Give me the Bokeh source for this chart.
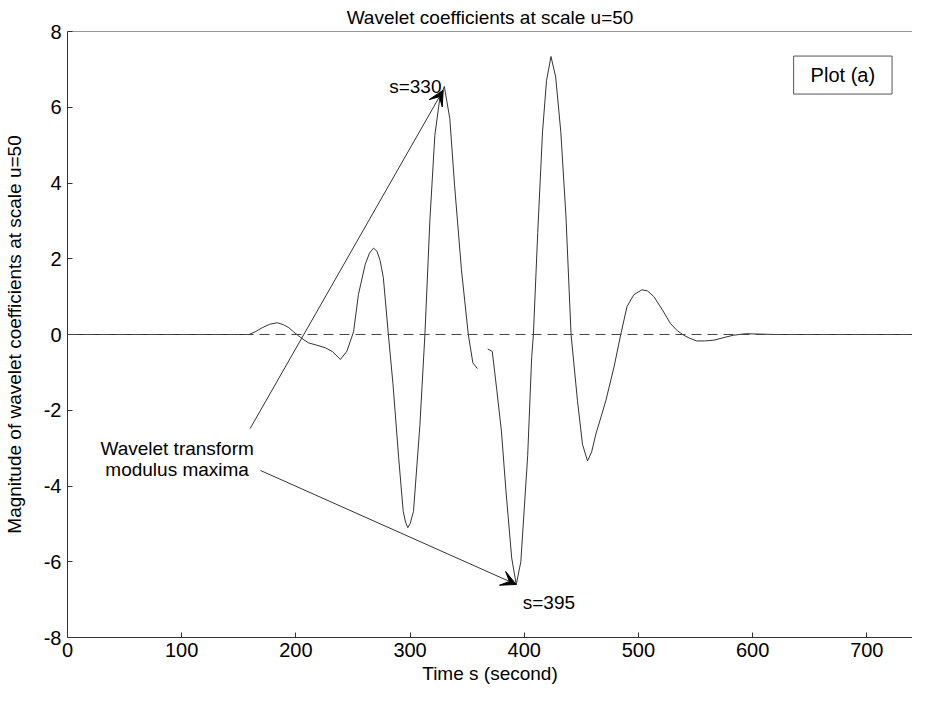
from bokeh.plotting import figure
from bokeh.models import (Title, Label, Arrow, VeeHead, Span,
                          FixedTicker, Range1d, ColumnDataSource)
from bokeh.embed import file_html
from bokeh.resources import INLINE

nan = float("nan")

# ---- data ----
time_s = [0, 100, 150, 159, 165, 170.6, 177, 183.7, 189, 193.8, 198, 202.5, 207, 211,
          218, 225.8, 232, 239, 244.7, 250.5, 254.8, 260.7, 264.5, 268, 271, 273.8, 276.6,
          281, 285, 290, 294, 296, 298, 300, 303, 308.6, 313, 317.4, 321.7, 326, 330,
          334.8, 339, 345, 351, 355, 359, nan, 368, 372, 376, 380, 384, 389, 393, 397,
          400, 403, 406.5, 408, 411.8, 416, 419.5, 423.4, 427.5, 432, 436.5, 441, 446.6,
          451, 455.4, 459, 462.7, 467, 471.4, 478.6, 484.5, 490, 496, 503, 508, 513.5,
          521, 528, 534, 539.7, 545, 551, 558, 566, 575, 583, 594, 620, 700, 750]
coef = [0, 0, 0, 0, 0.08, 0.18, 0.27, 0.31, 0.26, 0.18, 0.07, -0.04, -0.14, -0.22,
        -0.28, -0.35, -0.45, -0.66, -0.44, 0.07, 1.06, 1.85, 2.15, 2.28, 2.2, 1.95, 1.5,
        0.0, -1.3, -3.25, -4.67, -4.95, -5.1, -5.0, -4.67, -2.4, 0.0, 3.04, 5.26, 6.23, 6.55,
        5.7, 3.93, 1.71, 0.0, -0.75, -0.9, nan, -0.38, -0.45, -1.48, -2.55, -4.14, -5.9,
        -6.6, -6.0, -4.6, -3.2, -0.6, 0.0, 2.69, 5.35, 6.7, 7.34, 6.8, 5.35, 3.13, 0.0,
        -1.75, -2.9, -3.34, -3.1, -2.63, -2.2, -1.75, -0.86, 0.0, 0.74, 1.05, 1.18, 1.15,
        1.0, 0.65, 0.29, 0.1, -0.02, -0.1, -0.17, -0.17, -0.15, -0.08, -0.02, 0.02, 0, 0, 0]

x_ticks = [0, 100, 200, 300, 400, 500, 600, 700]
y_ticks = [-8, -6, -4, -2, 0, 2, 4, 6, 8]
y_min, y_max = -8, 8

# annotations (data coordinates)
max1 = (329, 6.45)          # s=330
max2 = (393, -6.6)          # s=395
note_xy = (96, -3.02)
arrow1_start = (160, -2.48)
arrow2_start = (169, -3.59)

FONT = "Liberation Sans"
FS = "19px"
TICK_FS = "20px"

p = figure(width=912, height=686, output_backend="svg", toolbar_location=None,
           title=None, x_range=Range1d(0, 740), y_range=Range1d(y_min, y_max),
           min_border_left=63, min_border_right=0, min_border_top=28,
           min_border_bottom=48)
p.outline_line_color = None
p.xgrid.visible = False
p.ygrid.visible = False
p.background_fill_color = "white"
p.border_fill_color = "white"

for ax in (p.xaxis[0], p.yaxis[0]):
    ax.major_tick_in = 5
    ax.major_tick_out = 0
    ax.minor_tick_in = 0
    ax.minor_tick_out = 0
    ax.axis_line_color = "#333333"
    ax.major_tick_line_color = "#333333"
    ax.major_label_text_font = FONT
    ax.major_label_text_font_size = TICK_FS
    ax.major_label_text_color = "black"
    ax.axis_label_text_font = FONT
    ax.axis_label_text_font_size = FS
    ax.axis_label_text_font_style = "normal"
    ax.axis_label_text_color = "black"

p.xaxis.ticker = FixedTicker(ticks=x_ticks)
p.yaxis.ticker = FixedTicker(ticks=y_ticks)
p.yaxis.major_label_overrides = {t: str(t) for t in y_ticks}
p.xaxis.major_label_overrides = {t: str(t) for t in x_ticks}
p.xaxis.axis_label = "Time s (second)"
p.yaxis.axis_label = "Magnitude of wavelet coefficients at scale u=50"
p.xaxis.major_label_standoff = 5
p.xaxis.axis_label_standoff = 3
p.yaxis.major_label_standoff = 6
p.yaxis.axis_label_standoff = 16

p.add_layout(Title(text="Wavelet coefficients at scale u=50", align="center",
                   text_font=FONT, text_font_size=FS, text_font_style="normal",
                   text_color="black", standoff=8), "above")

# top border of the axes box
p.add_layout(Span(location=y_max, dimension="width", line_color="#333333",
                  line_width=1))

# zero reference line
p.add_layout(Span(location=0, dimension="width", line_color="#444444",
                  line_width=1, line_dash="10 6"))

src = ColumnDataSource(dict(t=time_s, c=coef))
p.line("t", "c", source=src, line_color="#333333", line_width=1)

head = dict(size=15, fill_color="black", line_color="black")
p.add_layout(Arrow(end=VeeHead(**head), x_start=arrow1_start[0], y_start=arrow1_start[1],
                   x_end=max1[0], y_end=max1[1], line_color="#333333", line_width=1))
p.add_layout(Arrow(end=VeeHead(**head), x_start=arrow2_start[0], y_start=arrow2_start[1],
                   x_end=max2[0], y_end=max2[1], line_color="#333333", line_width=1))

lab = dict(text_font=FONT, text_font_size=FS, text_color="black")
p.add_layout(Label(x=327.5, y=6.56, text="s=330", text_align="right",
                   text_baseline="alphabetic", **lab))
p.add_layout(Label(x=398.7, y=-7.07, text="s=395", text_align="left",
                   text_baseline="alphabetic", **lab))
p.add_layout(Label(x=note_xy[0], y=note_xy[1], text="Wavelet transform",
                   text_align="center", text_baseline="alphabetic", **lab))
p.add_layout(Label(x=note_xy[0], y=note_xy[1] - 0.55, text="modulus maxima",
                   text_align="center", text_baseline="alphabetic", **lab))

p.add_layout(Label(x=679, y=6.85, text="Plot (a)", text_align="center",
                   text_baseline="middle", text_font=FONT, text_font_size="20px",
                   text_color="black", border_line_color="#555555",
                   border_line_width=1, background_fill_color="white",
                   padding=dict(left=17, right=17, top=8, bottom=8)))

open("out.html", "w").write(file_html(p, INLINE))
